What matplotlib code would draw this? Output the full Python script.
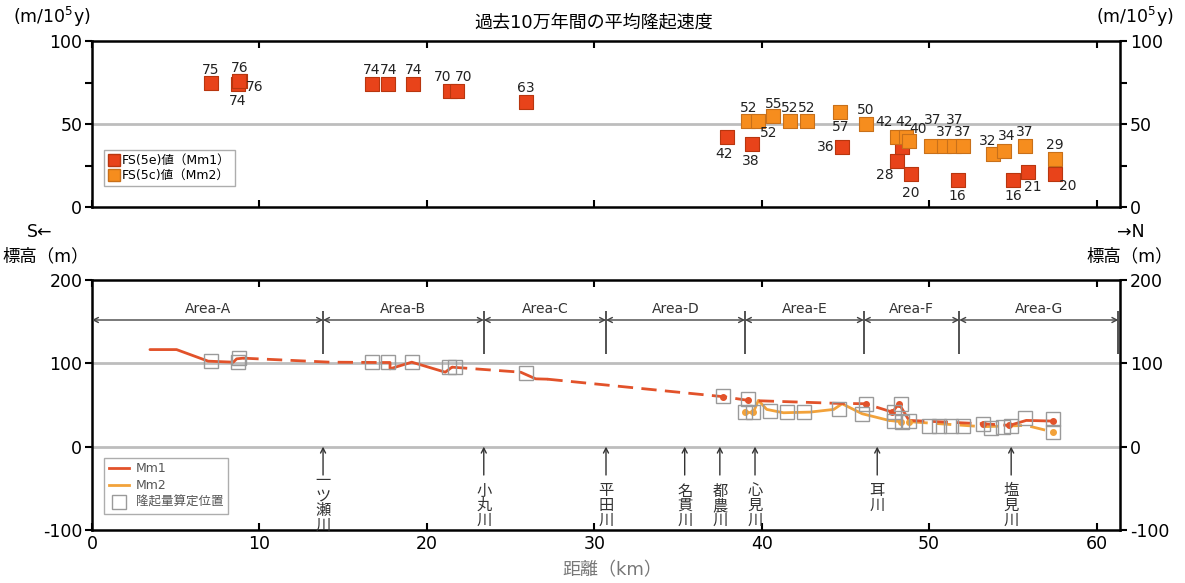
import matplotlib
matplotlib.use("Agg")
import matplotlib.pyplot as plt
from matplotlib.lines import Line2D

plt.rcParams['font.family'] = ['DejaVu Sans', 'Noto Sans CJK JP']
plt.rcParams['axes.unicode_minus'] = False

# ---------------- data ----------------
# Top panel: average uplift rate (m/10^5y)
mm1_km = [7.1, 8.85, 8.7, 8.8, 16.7, 17.7, 19.2, 21.4, 21.8, 25.9, 37.9, 39.4,
          44.8, 48.1, 48.4, 48.9, 51.7, 55.0, 55.9, 57.5]
mm1_rate = [75, 76, 74, 76, 74, 74, 74, 70, 70, 63, 42, 38,
            36, 28, 36, 20, 16, 16, 21, 20]
mm1_labels = ['75', '76', '74', '76', '74', '74', '74', '70', '70', '63', '42', '38',
              '36', '28', '', '20', '16', '16', '21', '20']

mm2_km = [39.2, 39.8, 40.7, 41.7, 42.7, 44.7, 46.2, 48.1, 48.6, 48.8, 50.1, 50.9,
          51.5, 52.0, 53.8, 54.5, 55.7, 57.5]
mm2_rate = [52, 52, 55, 52, 52, 57, 50, 42, 42, 40, 37, 37, 37, 37, 32, 34, 37, 29]
mm2_labels = ['52', '52', '55', '52', '52', '57', '50', '42', '42', '40', '37', '37',
              '37', '37', '32', '34', '37', '29']

# Bottom panel: elevation profiles (m)
mm1_solid_a_km = [3.46, 5.05, 6.94, 8.44, 8.64, 9.04]
mm1_solid_a_el = [116.5, 116.5, 102.6, 101.4, 105.4, 106.2]
mm1_dash_a_km = [9.04, 14.2, 17.3]
mm1_dash_a_el = [106.2, 101.4, 101.0]
mm1_solid_b_km = [17.3, 17.8, 17.8, 19.1, 21.1, 21.5]
mm1_solid_b_el = [101.0, 101.0, 93.4, 101.4, 89.4, 95.4]
mm1_dash_b_km = [21.5, 25.6]
mm1_dash_b_el = [95.4, 89.4]
mm1_solid_c_km = [25.6, 26.5, 27.2]
mm1_solid_c_el = [89.4, 81.4, 81.0]
mm1_dash_c_km = [27.2, 37.7, 39.2, 44.5, 46.2, 47.8]
mm1_dash_c_el = [81.0, 60.0, 55.5, 52.0, 51.5, 41.5]
mm1_solid_d_km = [47.8, 48.2, 48.8]
mm1_solid_d_el = [41.5, 51.5, 31.5]
mm1_dash_d_km = [48.8, 53.2, 54.8]
mm1_dash_d_el = [31.5, 27.5, 25.5]
mm1_solid_e_km = [54.8, 55.8, 57.4]
mm1_solid_e_el = [25.5, 31.5, 30.7]
mm1_dot_km = [37.7, 39.2, 46.2, 47.8, 48.2, 53.2, 54.8, 57.4]
mm1_dot_el = [60.0, 55.5, 51.5, 41.5, 51.5, 27.5, 25.5, 30.7]

mm2_solid_km = [39.0, 39.5, 39.8, 40.3, 41.3, 42.9, 44.3, 44.8, 46.0, 47.6]
mm2_solid_el = [41.0, 41.0, 55.5, 44.7, 40.7, 41.5, 44.7, 51.5, 39.5, 31.5]
mm2_dash_km = [47.6, 48.3, 48.8, 53.2, 55.8, 57.4]
mm2_dash_el = [31.5, 30.0, 30.0, 24.0, 25.5, 17.6]
mm2_dot_km = [39.0, 39.5, 48.3, 48.8, 57.4]
mm2_dot_el = [41.0, 41.0, 30.0, 30.0, 17.6]

# Uplift calculation positions (hollow squares)
pos_km = [7.1, 8.7, 8.8, 16.7, 17.7, 19.1, 21.3, 21.7, 25.9, 37.7, 39.2, 39.0, 39.5,
          40.5, 41.5, 42.5, 44.6, 46.2, 46.0, 47.9, 48.3, 47.9, 48.4, 48.8, 50.0,
          50.6, 51.3, 52.0, 53.2, 53.7, 54.4, 54.9, 55.7, 57.4, 57.4]
pos_el = [103, 101, 106, 101, 101, 101, 96, 96, 88, 61, 57, 41, 41,
          43, 41, 41, 45, 51, 39, 41, 51, 31, 30, 31, 25,
          25, 25, 25, 27, 22, 24, 25, 34, 33, 18]

# Areas
area_bounds = [0.0, 13.8, 23.4, 30.7, 39.0, 46.1, 51.8, 61.3]
area_names = ['Area-A', 'Area-B', 'Area-C', 'Area-D', 'Area-E', 'Area-F', 'Area-G']

# Rivers
river_km = [13.8, 23.4, 30.7, 35.4, 37.5, 39.6, 46.9, 54.9]
river_names = ['一ツ瀬川', '小丸川', '平田川', '名貫川', '都農川', '心見川', '耳川', '塩見川']

# ---------------- style ----------------
RED = '#E8431A'
RED_EDGE = '#B8360F'
ORANGE = '#F68D1E'
ORANGE_EDGE = '#C8701A'
RED_LINE = '#E2522A'
ORANGE_LINE = '#F2A23A'
GRID = '#BDBDBD'

# label offsets (pixels, dx, dy) for data labels
mm1_off = [(0, 13), (0, 13), (0, -17), (15, -6), (0, 14), (0, 14), (0, 14), (-8, 14),
           (7, 14), (0, 14), (-2, -17), (-1, -17), (-16, 0), (-13, -14), (0, 0),
           (0, -19), (0, -16), (0, -16), (5, -15), (13, -12)]
mm2_off = [(0, 13), (10, -12), (0, 12), (0, 13), (0, 13), (0, -15), (0, 14), (-13, 15),
           (-2, 15), (9, 12), (2, 26), (0, 14), (0, 26), (0, 14), (-5, 13), (2, 15),
           (0, 14), (0, 14)]

W, H = 1185, 583
fig = plt.figure(figsize=(W / 100, H / 100), dpi=100)

def fx(px):
    return px / W

def fy(py):
    return 1 - py / H

L, R = 92, 1120
ax1 = fig.add_axes([fx(L), fy(207), fx(R) - fx(L), fy(41) - fy(207)])
ax2 = fig.add_axes([fx(L), fy(530), fx(R) - fx(L), fy(280) - fy(530)], sharex=ax1)

XMAX = 61.4
for ax in (ax1, ax2):
    for s in ax.spines.values():
        s.set_linewidth(1.8)
        s.set_color('black')
    ax.tick_params(axis='x', which='both', direction='in', top=True, bottom=True,
                   length=5, width=1.5)
    ax.tick_params(axis='y', which='both', direction='out', left=True, right=True,
                   labelleft=True, labelright=True, length=5, width=1.5,
                   labelsize=12.5, pad=2)
ax1.set_xlim(0, XMAX)
ax1.set_xticks([0, 10, 20, 30, 40, 50, 60])
ax1.tick_params(axis='x', labelbottom=False)
ax2.tick_params(axis='x', labelbottom=True, labelsize=12.5)

# ---- top panel ----
ax1.set_ylim(0, 100)
ax1.set_yticks([0, 50, 100])
ax1.set_yticks([25, 75], minor=True)
ax1.axhline(50, color=GRID, lw=2, zorder=0)

ax1.scatter(mm1_km, mm1_rate, marker='s', s=95, color=RED, edgecolors=RED_EDGE,
            linewidths=0.8, zorder=3)
ax1.scatter(mm2_km, mm2_rate, marker='s', s=95, color=ORANGE, edgecolors=ORANGE_EDGE,
            linewidths=0.8, zorder=4)

for x, y, t, (dx, dy) in zip(mm1_km, mm1_rate, mm1_labels, mm1_off):
    if t:
        ax1.annotate(t, (x, y), xytext=(dx * 0.72, dy * 0.72), textcoords='offset points',
                     ha='center', va='center', fontsize=10, color='#222222', zorder=6)
for x, y, t, (dx, dy) in zip(mm2_km, mm2_rate, mm2_labels, mm2_off):
    ax1.annotate(t, (x, y), xytext=(dx * 0.72, dy * 0.72), textcoords='offset points',
                 ha='center', va='center', fontsize=10, color='#222222', zorder=6)

h1 = Line2D([], [], marker='s', ls='none', markersize=9, color=RED, markeredgecolor=RED_EDGE)
h2 = Line2D([], [], marker='s', ls='none', markersize=9, color=ORANGE, markeredgecolor=ORANGE_EDGE)
leg1 = ax1.legend([h1, h2], ['FS(5e)値（Mm1）', 'FS(5c)値（Mm2）'], loc='upper left',
                  bbox_to_anchor=(0.012, 0.345), fontsize=9, frameon=True, fancybox=False,
                  edgecolor='#999999', handlelength=0.9, handletextpad=0.15,
                  borderpad=0.35, labelspacing=0.15, borderaxespad=0)
leg1.get_frame().set_linewidth(1)

# ---- bottom panel ----
ax2.set_ylim(-100, 200)
ax2.set_yticks([-100, 0, 100, 200])
ax2.axhline(0, color=GRID, lw=2, zorder=0)
ax2.axhline(100, color=GRID, lw=2, zorder=0)

lw = 2.0
for kx, ky in [(mm1_solid_a_km, mm1_solid_a_el), (mm1_solid_b_km, mm1_solid_b_el),
               (mm1_solid_c_km, mm1_solid_c_el), (mm1_solid_d_km, mm1_solid_d_el),
               (mm1_solid_e_km, mm1_solid_e_el)]:
    ax2.plot(kx, ky, color=RED_LINE, lw=lw, zorder=3, solid_capstyle='round')
for kx, ky in [(mm1_dash_a_km, mm1_dash_a_el), (mm1_dash_b_km, mm1_dash_b_el),
               (mm1_dash_c_km, mm1_dash_c_el), (mm1_dash_d_km, mm1_dash_d_el)]:
    ax2.plot(kx, ky, color=RED_LINE, lw=lw, ls=(0, (5.5, 3)), zorder=3)
ax2.plot(mm2_solid_km, mm2_solid_el, color=ORANGE_LINE, lw=lw, zorder=2)
ax2.plot(mm2_dash_km, mm2_dash_el, color=ORANGE_LINE, lw=lw, ls=(0, (5.5, 3)), zorder=2)
ax2.plot(mm1_dot_km, mm1_dot_el, 'o', color=RED_LINE, markersize=4, zorder=4)
ax2.plot(mm2_dot_km, mm2_dot_el, 'o', color=ORANGE_LINE, markersize=4, zorder=4)
ax2.plot(pos_km, pos_el, 's', markerfacecolor='none', markeredgecolor='#9A9A9A',
         markersize=10, markeredgewidth=1.0, ls='none', zorder=5)

# areas
ax2.vlines(area_bounds, 111, 163, color='#444444', lw=1.3, zorder=2)
for a, b, name in zip(area_bounds[:-1], area_bounds[1:], area_names):
    ax2.annotate('', xy=(b, 152), xytext=(a, 152),
                 arrowprops=dict(arrowstyle='<->,head_length=0.35,head_width=0.18',
                                 color='#444444', lw=1.0, shrinkA=0, shrinkB=0))
    ax2.text((a + b) / 2, 157, name, ha='center', va='bottom', fontsize=10, color='#333333')

# rivers
for km, name in zip(river_km, river_names):
    ax2.annotate('', xy=(km, 0), xytext=(km, -34),
                 arrowprops=dict(arrowstyle='->,head_length=0.35,head_width=0.18',
                                 color='#333333', lw=1.0, shrinkA=0, shrinkB=0))
    top = -31 if len(name) == 4 else -43
    ax2.text(km, top, '\n'.join(name), ha='center', va='top', fontsize=11,
             linespacing=0.82, color='#333333', family=['Noto Sans CJK JP'])

hl1 = Line2D([], [], color=RED_LINE, lw=2)
hl2 = Line2D([], [], color=ORANGE_LINE, lw=2)
hl3 = Line2D([], [], marker='s', ls='none', markerfacecolor='none',
             markeredgecolor='#9A9A9A', markersize=10)
leg2 = ax2.legend([hl1, hl2, hl3], ['Mm1', 'Mm2', '隆起量算定位置'], loc='upper left',
                  bbox_to_anchor=(0.012, 0.29), fontsize=9, frameon=True, fancybox=False,
                  edgecolor='#999999', handlelength=1.6, handletextpad=0.5,
                  borderpad=0.4, labelspacing=0.3, borderaxespad=0, labelcolor='#555555')
leg2.get_frame().set_linewidth(1)

# ---- texts ----
fig.text(fx(594), fy(22), '過去10万年間の平均隆起速度', ha='center', va='center', fontsize=13)
fig.text(fx(52), fy(17), '(m/10$^5$y)', ha='center', va='center', fontsize=12.5)
fig.text(fx(1135), fy(17), '(m/10$^5$y)', ha='center', va='center', fontsize=12.5)
fig.text(fx(40), fy(232), 'S←', ha='center', va='center', fontsize=12.5)
fig.text(fx(1131), fy(232), '→N', ha='center', va='center', fontsize=12.5)
fig.text(fx(46), fy(256), '標高（m）', ha='center', va='center', fontsize=12.5)
fig.text(fx(1130), fy(256), '標高（m）', ha='center', va='center', fontsize=12.5)
fig.text(fx(612), fy(570), '距離（km）', ha='center', va='center', fontsize=13, color='#777777')

fig.savefig('out.png', dpi=100)
